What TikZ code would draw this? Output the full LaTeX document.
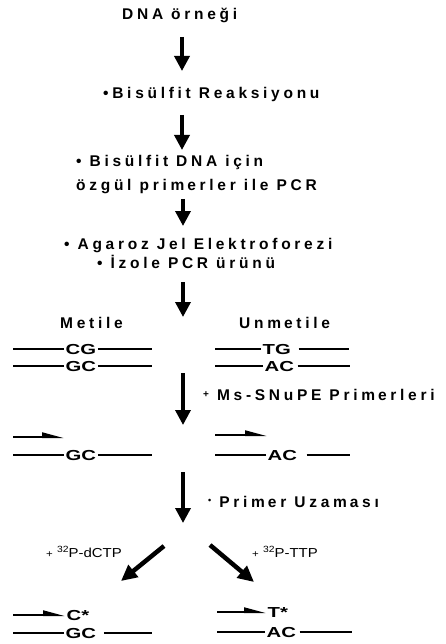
\documentclass[tikz,border=0pt]{standalone}
\usepackage{fontspec}
\setmainfont{Liberation Sans}
% tracked bold captions for the workflow steps
\newfontfamily\spacedfont[LetterSpace=24]{Liberation Sans}
% widened bold letters for the DNA bases
\newfontfamily\basefont[FakeStretch=1.4]{Liberation Sans}
% slightly widened face for the nucleotide tags
\newfontfamily\tagfont[FakeStretch=1.15]{Liberation Sans}
% the tracked face leaves a little extra room after an "m"
\newcommand\mgap{\kern3pt}
\usetikzlibrary{arrows.meta}

\begin{document}
\begin{tikzpicture}[x=1pt,y=-1pt,
  steptext/.style={anchor=base west, inner sep=0pt,
    font=\spacedfont\bfseries\fontsize{15.5}{18}\selectfont},
  flow/.style={line width=3.5pt, -{Triangle[length=15pt,width=15pt]}},
  slant/.style={line width=4.5pt, -{Triangle[length=16pt,width=15pt]}},
  strand/.style={line width=2pt},
  primer/.style={line width=2pt, -{Triangle[harpoon,length=18pt,width=9pt]}},
  basetext/.style={anchor=west, inner sep=1.5pt, text height=10.4pt, text depth=0pt,
    font=\basefont\bfseries\fontsize{14.5}{17}\selectfont},
  tag/.style={anchor=base west, inner sep=0pt,
    font=\tagfont\fontsize{13}{15}\selectfont},
]
\fill[white] (0,0) rectangle (446,644);
\useasboundingbox (0,0) rectangle (446,644);

% ---- workflow steps
\node[steptext] (sample)   at (122,20)  {DNA örneği};
\node[steptext] (bisulf)   at (103,99)  {•Bisülfit Reaksiyonu};
\node[steptext] (pcrA)     at (76,167)  {• Bisülfit DNA için};
\node[steptext] (pcrB)     at (76,190)  {özgül prim\mgap erler ile PCR};
\node[steptext] (gel)      at (64,249)  {• Agaroz Jel Elektroforezi};
\node[steptext] (isolate)  at (97,268)  {• İzole PCR ürünü};
\node[steptext] (methyl)   at (60,328)  {Metile};
\node[steptext] (unmethyl) at (239,328) {Unm\mgap etile};
\node[steptext] (snupe)    at (203,400) {{\fontsize{10}{10}\selectfont\raisebox{3pt}{+}} Ms-SNuPE Prim\mgap erleri};
\node[steptext] (extend)   at (208,507) {{\fontsize{9}{9}\selectfont\raisebox{3.5pt}{•}} Prim\mgap er Uzam\mgap ası};

% ---- vertical flow arrows
\coordinate (f1a) at (182,37);  \coordinate (f1b) at (182,71);
\coordinate (f2a) at (182,115); \coordinate (f2b) at (182,150);
\coordinate (f3a) at (183,199); \coordinate (f3b) at (183,226);
\coordinate (f4a) at (183,282); \coordinate (f4b) at (183,317);
\coordinate (f5a) at (183,373); \coordinate (f5b) at (183,425);
\coordinate (f6a) at (183,472); \coordinate (f6b) at (183,523);
\draw[flow] (f1a) -- (f1b);
\draw[flow] (f2a) -- (f2b);
\draw[flow] (f3a) -- (f3b);
\draw[flow] (f4a) -- (f4b);
\draw[flow] (f5a) -- (f5b);
\draw[flow] (f6a) -- (f6b);

% ---- branching arrows
\coordinate (bLa) at (164,546); \coordinate (bLb) at (121,581);
\coordinate (bRa) at (210,545); \coordinate (bRb) at (254,582);
\draw[slant] (bLa) -- (bLb);
\draw[slant] (bRa) -- (bRb);
\node[tag] (dctp) at (46,557) {{\fontsize{10}{10}\selectfont+} {\fontsize{9}{9}\selectfont\raisebox{4.5pt}{32}}P-dCTP};
\node[tag] (ttp)  at (252,557) {{\fontsize{10}{10}\selectfont+} {\fontsize{9}{9}\selectfont\raisebox{4.5pt}{32}}P-TTP};

% ---- bisulfite converted duplexes
\node[basetext] (mCG) at (64,349) {CG};
\draw[strand] (mCG.west) -- ++(-51,0);  \draw[strand] (mCG.east) -- ++(54,0);
\node[basetext] (mGC) at (64,366) {GC};
\draw[strand] (mGC.west) -- ++(-51,0);  \draw[strand] (mGC.east) -- ++(54,0);
\node[basetext] (uTG) at (261,349) {TG};
\draw[strand] (uTG.west) -- ++(-46,0);  \draw[strand] ([xshift=6pt]uTG.east) -- ++(50,0);
\node[basetext] (uAC) at (263,366) {AC};
\draw[strand] (uAC.west) -- ++(-48,0);  \draw[strand] ([xshift=2pt]uAC.east) -- ++(52,0);

% ---- primers annealed
\coordinate (pLa) at (13,437);  \coordinate (pLb) at (64,437);
\coordinate (pRa) at (215,435); \coordinate (pRb) at (267,435);
\draw[primer] (pLa) -- (pLb);
\draw[primer] (pRa) -- (pRb);
\node[basetext] (mGC2) at (64,455) {GC};
\draw[strand] (mGC2.west) -- ++(-51,0); \draw[strand] (mGC2.east) -- ++(54,0);
\node[basetext] (uAC2) at (266,455) {AC};
\draw[strand] (uAC2.west) -- ++(-51,0); \draw[strand] ([xshift=8pt]uAC2.east) -- ++(43,0);

% ---- extended primers
\node[basetext] (cstar) at (65,615) {C*};
\draw[primer] ([xshift=-52pt]cstar.west) -- (cstar.west);
\node[basetext] (mGC3) at (64,633) {GC};
\draw[strand] (mGC3.west) -- ++(-51,0); \draw[strand] ([xshift=6pt]mGC3.east) -- ++(48,0);
\node[basetext] (tstar) at (266,612) {T*};
\draw[primer] ([xshift=-49pt]tstar.west) -- (tstar.west);
\node[basetext] (uAC3) at (265,632) {AC};
\draw[strand] (uAC3.west) -- ++(-48,0); \draw[strand] ([xshift=2pt]uAC3.east) -- ++(52,0);
\end{tikzpicture}
\end{document}
